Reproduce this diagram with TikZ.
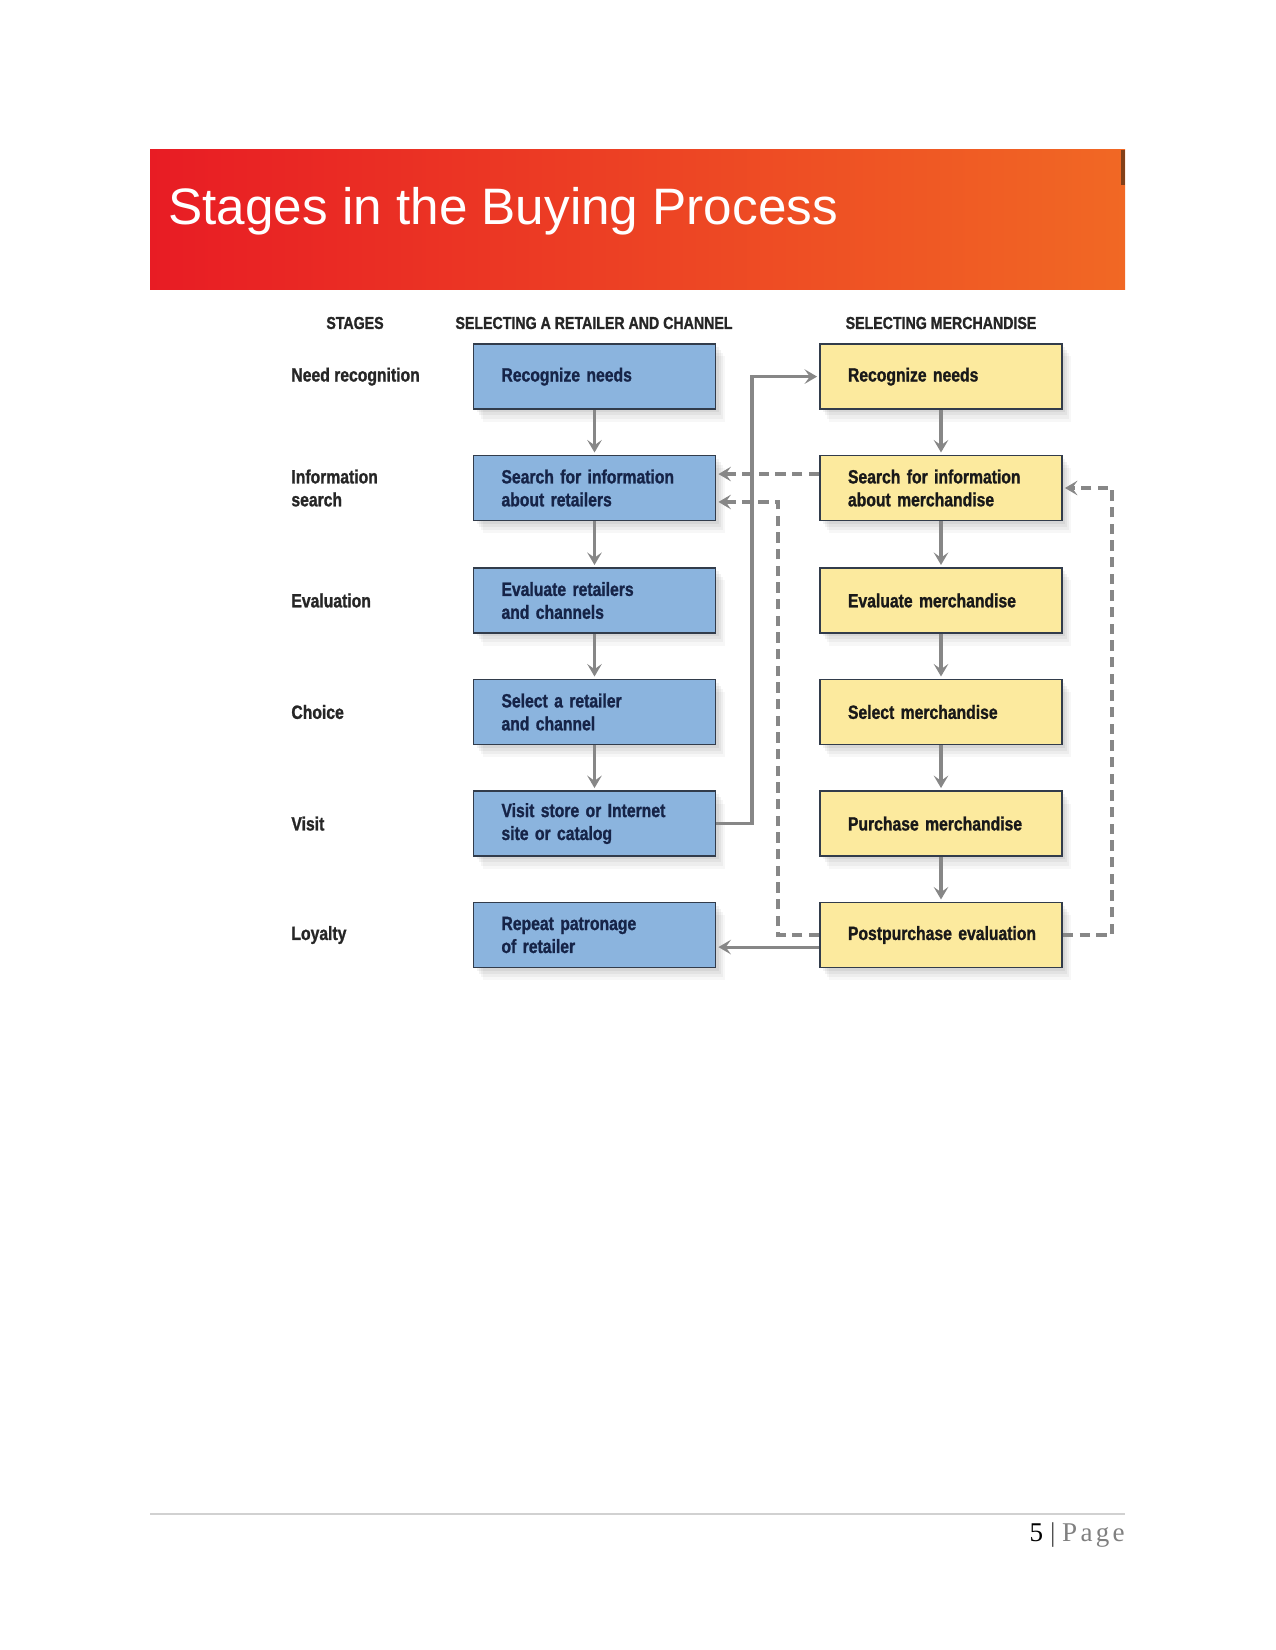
\documentclass[tikz,border=0pt]{standalone}
\usepackage{fontspec}
\usetikzlibrary{arrows.meta,shadows,calc}
\newfontfamily\condfont[FakeStretch=0.82, FakeBold=1.2]{Liberation Sans Bold}
\newfontfamily\titlefont{Liberation Sans}
\newfontfamily\pagefont{Liberation Serif}
\definecolor{bannerL}{RGB}{232,28,36}
\definecolor{bannerM}{RGB}{236,58,36}
\definecolor{bannerR}{RGB}{241,104,36}
\definecolor{boxblue}{RGB}{139,180,222}
\definecolor{boxyellow}{RGB}{252,234,158}
\definecolor{boxedge}{RGB}{50,60,75}
\definecolor{navytext}{RGB}{22,36,72}
\definecolor{linegray}{RGB}{135,135,135}
\begin{document}
\begin{tikzpicture}[x=0.48pt,y=-0.48pt,
  softshadow/.style={
    general shadow={fill=black, opacity=0.05, shadow xshift=1.5pt, shadow yshift=-1.5pt},
    general shadow={fill=black, opacity=0.05, shadow xshift=2.5pt, shadow yshift=-3pt},
    general shadow={fill=black, opacity=0.04, shadow xshift=3.5pt, shadow yshift=-4.5pt},
    general shadow={fill=black, opacity=0.03, shadow xshift=4.5pt, shadow yshift=-6pt}},
  stagebox/.style={draw=boxedge, line width=0.8pt, minimum height=31.3pt,
    text width=89.3pt, inner xsep=13.44pt, inner ysep=0pt, align=left,
    font=\condfont\fontsize{9.2}{11}\selectfont, softshadow},
  bluebox/.style={stagebox, fill=boxblue, text=navytext},
  yellowbox/.style={stagebox, fill=boxyellow, text=black!90},
  stagelabel/.style={anchor=west, inner sep=0pt, align=left, text=black!85,
    font=\condfont\fontsize{9.2}{11}\selectfont},
  header/.style={inner sep=0pt, text=black!85,
    font=\condfont\fontsize{8.3}{10}\selectfont},
  flow/.style={draw=linegray, line width=1.5pt, shorten >=1pt,
    -{Stealth[length=6pt,width=7pt,inset=2.5pt]}},
  fb/.style={flow, dash pattern=on 5pt off 3pt}
]
\useasboundingbox (0,0) rectangle (1275,1650);

% banner
\shade[left color=bannerL, middle color=bannerM, right color=bannerR] (150,150) rectangle (1125,290);
\fill[black!70!brown, opacity=0.6] (1121,150) rectangle (1125,185);
\node[anchor=base west, inner sep=0pt, text=white, font=\titlefont\fontsize{24.6}{28}\selectfont] (title) at (168,225) {Stages in the Buying Process};

% headers
\node[header] (h1) at (355,323) {STAGES};
\node[header] (h2) at (594,323) {SELECTING A RETAILER AND CHANNEL};
\node[header] (h3) at (941,323) {SELECTING MERCHANDISE};

% stage labels
\node[stagelabel] (s1) at (291,376.6) {Need recognition};
\node[stagelabel] (s2) at (291,488) {Information\\search};
\node[stagelabel] (s3) at (291,600.5) {Evaluation};
\node[stagelabel] (s4) at (291,712) {Choice};
\node[stagelabel] (s5) at (291,823.6) {Visit};
\node[stagelabel] (s6) at (291,935) {Loyalty};

% retailer column
\node[bluebox] (b1) at (594.5,376.6) {Recognize needs};
\node[bluebox] (b2) at (594.5,488) {Search for information\\about retailers};
\node[bluebox] (b3) at (594.5,600.5) {Evaluate retailers\\and channels};
\node[bluebox] (b4) at (594.5,712) {Select a retailer\\and channel};
\node[bluebox] (b5) at (594.5,823.6) {Visit store or Internet\\site or catalog};
\node[bluebox] (b6) at (594.5,935) {Repeat patronage\\of retailer};

% merchandise column
\node[yellowbox] (y1) at (941,376.6) {Recognize needs};
\node[yellowbox] (y2) at (941,488) {Search for information\\about merchandise};
\node[yellowbox] (y3) at (941,600.5) {Evaluate merchandise};
\node[yellowbox] (y4) at (941,712) {Select merchandise};
\node[yellowbox] (y5) at (941,823.6) {Purchase merchandise};
\node[yellowbox] (y6) at (941,935) {\mbox{Postpurchase evaluation}};

% helper coordinates
\coordinate (vs) at (752,0);
\coordinate (dl) at (778,0);
\coordinate (dr) at (1112,0);
\coordinate (lowpt) at ([yshift=-6.7pt]b2.east);

% vertical flows
\foreach \a/\b in {b1/b2,b2/b3,b3/b4,b4/b5,y1/y2,y2/y3,y3/y4,y4/y5,y5/y6}
  \draw[flow] (\a) -- (\b);

% dashed feedback
\draw[fb] ([yshift=6.7pt]y2.west) -- ([yshift=6.7pt]b2.east);
\draw[fb] (y6.west) -| (dl |- lowpt) -- (lowpt);
\draw[fb] (y6.east) -| (dr |- y2.east) -- (y2.east);

% solid connectors
\draw[flow] (b5.east) -| (vs |- y1.west) -- (y1.west);
\draw[flow] ([yshift=-5.8pt]y6.west) -- ([yshift=-5.8pt]b6.east);

% footer
\draw[draw=black!18, line width=0.5pt] (150,1514) -- (1125,1514);
\node[anchor=base east, inner sep=0pt, font=\pagefont\fontsize{13}{15}\selectfont] (pg) at (1125,1541)
  {5 {\color{black!70}|} {\addfontfeature{LetterSpace=12}\color{black!50}Page}};
\end{tikzpicture}
\end{document}
